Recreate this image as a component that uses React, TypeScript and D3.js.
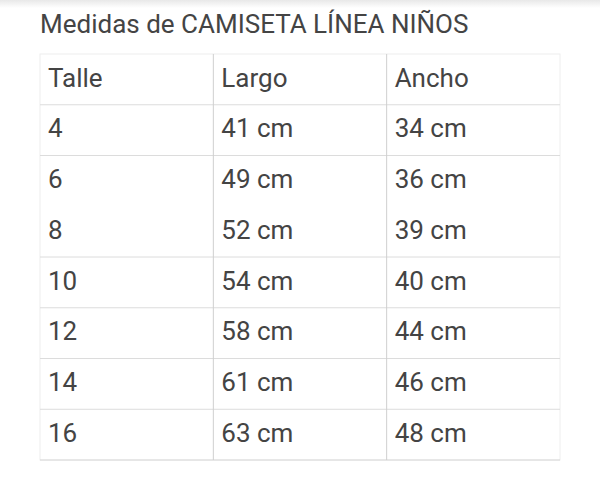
import { useEffect } from 'react';
import * as d3 from 'd3';

const title = 'Medidas de CAMISETA LÍNEA NIÑOS';
const columns = ['Talle', 'Largo', 'Ancho'];
const sizes = ['4', '6', '8', '10', '12', '14', '16'];
const largo = [41, 49, 52, 54, 58, 61, 63];
const ancho = [34, 36, 39, 40, 44, 46, 48];

export default function App() {
  const width = 600;
  const height = 497;
  const left = 40;
  const right = 560;
  const top = 54;
  const bottom = 460;
  const font = "Roboto, 'Liberation Sans', sans-serif";

  useEffect(() => {
    document.body.style.margin = '0';
  }, []);

  const rowKeys = ['header', ...sizes];
  const x = d3.scaleBand<string>().domain(columns).range([left, right]);
  const y = d3.scaleBand<string>().domain(rowKeys).range([top, bottom]);

  const rows = [
    columns,
    ...sizes.map((s, i) => [s, `${largo[i]} cm`, `${ancho[i]} cm`]),
  ];

  return (
    <svg width={width} height={height} style={{ display: 'block', background: '#fff' }}>
      <defs>
        <linearGradient id='topshade' x1='0' x2='0' y1='0' y2='1'>
          <stop offset='0%' stopColor='#e8e8e8' />
          <stop offset='100%' stopColor='#ffffff' />
        </linearGradient>
      </defs>
      <rect x={0} y={0} width={width} height={8} fill='url(#topshade)' />

      {/* Title */}
      <text x={left} y={32.5} fontFamily={font} fontSize={26} fill='#444'>
        {title}
      </text>

      {/* Outer border */}
      <rect
        x={left}
        y={top}
        width={right - left}
        height={bottom - top}
        fill='none'
        stroke='#eeeeee'
      />

      {/* Row separators (none between 6 and 8) */}
      {rowKeys.slice(0, -1).map((k) =>
        k === '6' ? null : (
          <line
            key={k}
            x1={left}
            x2={right}
            y1={(y(k) ?? 0) + y.bandwidth()}
            y2={(y(k) ?? 0) + y.bandwidth()}
            stroke='#dcdcdc'
          />
        ),
      )}
      <line x1={left} x2={right} y1={bottom} y2={bottom} stroke='#d6d6d6' />

      {/* Column separators */}
      {columns.slice(1).map((c) => (
        <line key={c} x1={x(c)} x2={x(c)} y1={top} y2={bottom} stroke='#cfcfcf' />
      ))}

      {/* Cells */}
      {rows.map((r, ri) =>
        r.map((cell, ci) => (
          <text
            key={`${ri}-${ci}`}
            x={(x(columns[ci]) ?? 0) + 8}
            y={(y(rowKeys[ri]) ?? 0) + y.bandwidth() / 2}
            dy='0.28em'
            fontFamily={font}
            fontSize={26}
            fill='#444'
          >
            {cell}
          </text>
        )),
      )}
    </svg>
  );
}
